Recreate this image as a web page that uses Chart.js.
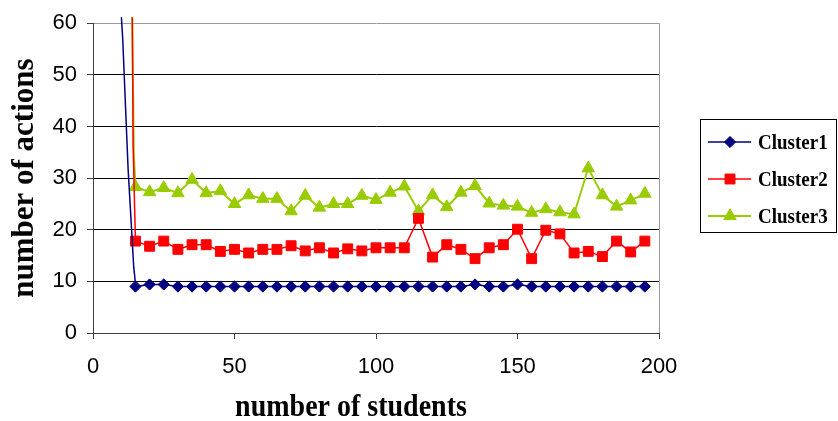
<!DOCTYPE html>
<html>
<head>
<meta charset="utf-8">
<script src="https://cdn.jsdelivr.net/npm/chart.js@4/dist/chart.umd.min.js"></script>
<style>
  html, body { margin: 0; padding: 0; background: #fff; }
  #wrap { width: 838px; height: 421px; }
</style>
</head>
<body>
<div id="wrap"><canvas id="c" width="838" height="421"></canvas></div>
<script>
// Number of students in the simulated class
const students = [15, 20, 25, 30, 35, 40, 45, 50, 55, 60, 65, 70, 75, 80, 85, 90, 95, 100, 105, 110,
                  115, 120, 125, 130, 135, 140, 145, 150, 155, 160, 165, 170, 175, 180, 185, 190, 195];

// Number of actions per cluster
const cluster1 = [9.0, 9.4, 9.4, 9.0, 9.0, 9.0, 9.0, 9.0, 9.0, 9.0,
                  9.0, 9.0, 9.0, 9.0, 9.0, 9.0, 9.0, 9.0, 9.0, 9.0,
                  9.0, 9.0, 9.0, 9.0, 9.4, 9.0, 9.0, 9.4, 9.0, 9.0,
                  9.0, 9.0, 9.0, 9.0, 9.0, 9.0, 9.0];
const cluster2 = [17.8, 16.8, 17.8, 16.2, 17.1, 17.1, 15.8, 16.2, 15.5, 16.2,
                  16.2, 16.9, 15.9, 16.5, 15.5, 16.3, 15.9, 16.5, 16.5, 16.5,
                  22.2, 14.7, 17.1, 16.2, 14.4, 16.5, 17.1, 20.1, 14.4, 19.9,
                  19.2, 15.5, 15.8, 14.8, 17.8, 15.7, 17.8];
const cluster3 = [28.3, 27.3, 28.1, 27.1, 29.7, 27.1, 27.5, 25.0, 26.7, 26.0,
                  26.0, 23.6, 26.6, 24.3, 25.0, 25.0, 26.6, 25.8, 27.2, 28.4,
                  23.6, 26.7, 24.4, 27.2, 28.5, 25.1, 24.7, 24.5, 23.3, 24.0,
                  23.4, 23.0, 31.9, 26.7, 24.5, 25.7, 27.0];

// Very small classes: the curves shoot far above the axis (drawn without markers)
const cluster1SmallX = [9.5, 10.5, 12.4, 14.4, 14.8];
const cluster1SmallY = [66, 57, 31.8, 12.7, 10.7];
const cluster2SmallX = [13.8, 14.2, 14.7];
const cluster2SmallY = [66, 36, 24.5];
const cluster3SmallX = [13.8, 14.4];
const cluster3SmallY = [66, 35];

// Axis ticks
const xTicks = [0, 50, 100, 150, 200];
const yTicks = [0, 10, 20, 30, 40, 50, 60];

function series(smallX, smallY, values) {
  const pts = smallX.map((x, i) => ({ x, y: smallY[i] }));
  return pts.concat(students.map((x, i) => ({ x, y: values[i] })));
}

const markerRadius = (r) => (ctx) => (ctx.raw && ctx.raw.x < students[0]) ? 0 : r;

const lineClip = { left: 4, top: 6, right: 4, bottom: 4 };

const datasets = [
  {
    label: 'Cluster1',
    data: series(cluster1SmallX, cluster1SmallY, cluster1),
    borderColor: '#000080', backgroundColor: '#000080',
    borderWidth: 1.5,
    pointStyle: 'rectRot', pointRadius: markerRadius(5.6), pointBorderWidth: 1,
    pointBackgroundColor: '#000080', pointBorderColor: '#000080',
    showLine: true, tension: 0, clip: lineClip
  },
  {
    label: 'Cluster2',
    data: series(cluster2SmallX, cluster2SmallY, cluster2),
    borderColor: '#FF0000', backgroundColor: '#FF0000',
    borderWidth: 1.5,
    pointStyle: 'rect', pointRadius: markerRadius(7), pointBorderWidth: 1,
    pointBackgroundColor: '#FF0000', pointBorderColor: '#FF0000',
    showLine: true, tension: 0, clip: lineClip
  },
  {
    label: 'Cluster3',
    data: series(cluster3SmallX, cluster3SmallY, cluster3),
    borderColor: '#99CC00', backgroundColor: '#99CC00',
    borderWidth: 2,
    pointStyle: 'triangle', pointRadius: markerRadius(7.2), pointBorderWidth: 1,
    pointBackgroundColor: '#99CC00', pointBorderColor: '#99CC00',
    showLine: true, tension: 0, clip: lineClip
  }
];

// Boxed key on the right and the horizontal axis caption
const keyBox = {
  id: 'keyBox',
  afterDraw(chart) {
    const ctx = chart.ctx;
    const a = chart.chartArea;

    ctx.save();
    ctx.fillStyle = '#000';
    ctx.font = 'bold 28px "Liberation Serif", "Times New Roman", serif';
    ctx.textAlign = 'center';
    ctx.textBaseline = 'alphabetic';
    ctx.translate((a.left + a.right) / 2 - 25, chart.height - 5);
    ctx.scale(1, 1.1);
    ctx.fillText('number of students', 0, 0);
    ctx.restore();

    const bx = a.right + 41, by = 119, bw = 136, bh = 113;
    ctx.save();
    ctx.strokeStyle = '#000';
    ctx.lineWidth = 1;
    ctx.strokeRect(bx + 0.5, by + 0.5, bw, bh);
    chart.data.datasets.forEach((ds, i) => {
      const y = by + 23 + i * 37;
      ctx.strokeStyle = ds.borderColor;
      ctx.lineWidth = ds.borderWidth;
      ctx.beginPath();
      ctx.moveTo(bx + 8, y);
      ctx.lineTo(bx + 51, y);
      ctx.stroke();
      ctx.fillStyle = ds.pointBackgroundColor;
      ctx.strokeStyle = ds.pointBorderColor;
      ctx.lineWidth = 1;
      const r = ds.pointRadius({ raw: { x: students[0] } });
      Chart.helpers.drawPoint(ctx, { pointStyle: ds.pointStyle, radius: r, rotation: 0, borderWidth: 1 }, bx + 30, y);
      ctx.save();
      ctx.fillStyle = '#000';
      ctx.font = 'bold 19px "Liberation Serif", "Times New Roman", serif';
      ctx.textAlign = 'left';
      ctx.textBaseline = 'middle';
      ctx.translate(bx + 58, y + 1);
      ctx.scale(1, 1.15);
      ctx.fillText(ds.label, 0, 0);
      ctx.restore();
    });
    ctx.restore();
  }
};

const tickFont = { family: '"Liberation Sans", Arial, sans-serif', size: 22 };

new Chart(document.getElementById('c'), {
  type: 'scatter',
  data: { datasets },
  plugins: [keyBox],
  options: {
    responsive: false,
    animation: false,
    events: [],
    layout: { padding: { top: 19, right: 179, left: 0, bottom: 0 } },
    plugins: { legend: { display: false }, tooltip: { enabled: false } },
    scales: {
      x: {
        type: 'linear', min: 0, max: 200,
        afterBuildTicks: (s) => { s.ticks = xTicks.map(v => ({ value: v })); },
        afterFit: (s) => { s.height = 88; },
        ticks: { font: tickFont, color: '#000', padding: 15, maxRotation: 0 },
        grid: {
          color: (c) => (c.tick && c.tick.value === 200) ? '#9a9a9a' : 'rgba(0,0,0,0)',
          tickColor: '#404040', tickLength: 6, lineWidth: 1
        },
        border: { display: true, color: '#404040', width: 1 },
        title: { display: false }
      },
      y: {
        type: 'linear', min: 0, max: 60,
        afterBuildTicks: (s) => { s.ticks = yTicks.map(v => ({ value: v })); },
        afterFit: (s) => { s.width = 93; },
        ticks: { font: tickFont, color: '#000', padding: 10 },
        grid: {
          color: (c) => {
            if (!c.tick) return '#000';
            if (c.tick.value === 0) return 'rgba(0,0,0,0)';
            if (c.tick.value === 60) return '#9a9a9a';
            return '#000';
          },
          tickColor: '#404040', tickLength: 6, lineWidth: 1
        },
        border: { display: true, color: '#404040', width: 1 },
        title: {
          display: true,
          text: 'number of actions',
          color: '#000',
          font: { family: '"Liberation Serif", "Times New Roman", serif', size: 31, weight: 'bold', lineHeight: 1 },
          padding: { top: 9, bottom: 0 }
        }
      }
    }
  }
});
</script>
</body>
</html>
